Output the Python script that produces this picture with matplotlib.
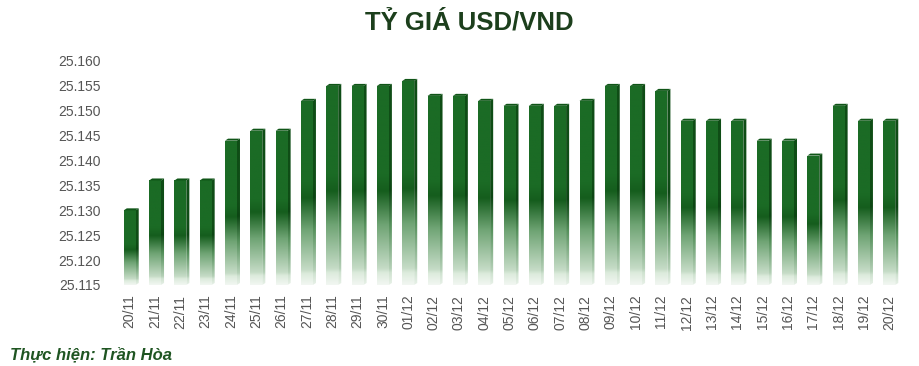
import matplotlib.pyplot as plt
import numpy as np
from matplotlib.colors import LinearSegmentedColormap
from matplotlib.patches import Polygon

dates = ["20/11", "21/11", "22/11", "23/11", "24/11", "25/11", "26/11", "27/11",
         "28/11", "29/11", "30/11", "01/12", "02/12", "03/12", "04/12", "05/12",
         "06/12", "07/12", "08/12", "09/12", "10/12", "11/12", "12/12", "13/12",
         "14/12", "15/12", "16/12", "17/12", "18/12", "19/12", "20/12"]
rates = [25.130, 25.136, 25.136, 25.136, 25.144, 25.146, 25.146, 25.152,
         25.155, 25.155, 25.155, 25.156, 25.153, 25.153, 25.152, 25.151,
         25.151, 25.151, 25.152, 25.155, 25.155, 25.154, 25.148, 25.148,
         25.148, 25.144, 25.144, 25.141, 25.151, 25.148, 25.148]
yticks = [25.115, 25.120, 25.125, 25.130, 25.135, 25.140, 25.145, 25.150, 25.155, 25.160]
base = 25.115

plt.rcParams['font.family'] = ['Liberation Sans', 'DejaVu Sans']

front_cmap = LinearSegmentedColormap.from_list("front", [
    (0.0, "#f2f7f2"), (0.06, "#dcebdc"), (0.08, "#c6dcc7"),
    (0.30, "#6fa474"), (0.47, "#155d1d"), (0.55, "#1b6b25"), (1.0, "#1b6b25")])
side_cmap = LinearSegmentedColormap.from_list("side", [
    (0.0, "#e8f1e8"), (0.06, "#cfe2d0"), (0.08, "#b5d0b7"),
    (0.30, "#55905b"), (0.47, "#0c4513"), (0.55, "#0f4d16"), (1.0, "#0f4d16")])
grad = np.linspace(0, 1, 256).reshape(-1, 1)

fig = plt.figure(figsize=(9.2, 3.66), dpi=100)
ax = fig.add_axes([112 / 920, 81 / 366, 795 / 920, 224 / 366])

x = np.arange(len(dates))
w = 0.47
dx = 0.12
dy = 0.0004

bars = ax.bar(x, np.array(rates) - base, bottom=base, width=w, color="none", zorder=3)
for xi, b, v in zip(x, bars, rates):
    x0 = xi - w / 2
    x1 = xi + w / 2
    # side face
    side = Polygon([(x1, base), (x1 + dx, base + dy), (x1 + dx, v + dy), (x1, v)],
                   closed=True, facecolor="none", edgecolor="none")
    ax.add_patch(side)
    im = ax.imshow(grad, cmap=side_cmap, origin="lower", aspect="auto",
                   extent=[x1, x1 + dx, base, v + dy], zorder=2)
    im.set_clip_path(side)
    # top cap
    ax.add_patch(Polygon([(x0, v), (x0 + dx, v + dy), (x1 + dx, v + dy), (x1, v)],
                         closed=True, facecolor="#0f5517", edgecolor="none", zorder=4))
    # front face
    im = ax.imshow(grad, cmap=front_cmap, origin="lower", aspect="auto",
                   extent=[x0, x1, base, v], zorder=3)
    im.set_clip_path(b)

ax.set_xlim(-0.7, len(dates) - 0.3)
ax.set_ylim(base, 25.160)
ax.set_yticks(yticks)
ax.set_yticklabels([f"{t:.3f}" for t in yticks])
ax.set_xticks(x)
ax.set_xticklabels(dates, rotation=90)
ax.tick_params(axis="both", length=0, labelsize=10, colors="#555555")
ax.tick_params(axis="y", pad=8)
ax.tick_params(axis="x", pad=7)
for s in ax.spines.values():
    s.set_visible(False)

fig.text(469 / 920, 1 - 22 / 366, "TỶ GIÁ USD/VND", ha="center", va="center",
         fontsize=18.5, fontweight="bold", color="#1c3f1c")
fig.text(10 / 920, 1 - 355 / 366, "Thực hiện: Trần Hòa", ha="left", va="center",
         fontsize=12, fontweight="bold", fontstyle="italic", color="#1f5522")

fig.savefig("out.png", dpi=100)
